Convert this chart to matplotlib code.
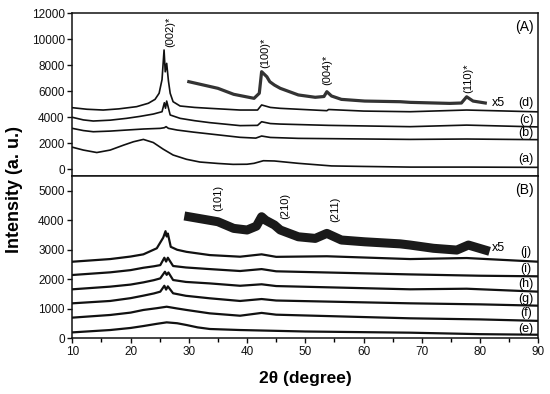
import matplotlib
matplotlib.use('Agg')
import matplotlib.pyplot as plt
from matplotlib.ticker import MultipleLocator

plt.rcParams['font.family'] = ['Liberation Sans', 'DejaVu Sans']

# ---- panel (A) ----
a_x = [10, 11.9, 14.2, 16.5, 18.8, 20.5, 22.2, 23.9, 25.6, 27.3, 29.6, 31.9, 35, 37.6, 40, 41.2, 42.8, 44.7, 48.8, 54.5, 60, 68, 78, 90]
a_y = [1700, 1480, 1290, 1480, 1860, 2120, 2300, 2060, 1550, 1100, 770, 560, 450, 380, 390, 460, 660, 640, 460, 260, 220, 170, 170, 150]

b_x = [10, 11.9, 13.6, 16.5, 19.3, 22.2, 25.1, 25.8, 26.1, 26.5, 28, 30.8, 33.6, 38.8, 41.5, 42.5, 44, 48.8, 68, 77.7, 90]
b_y = [3150, 2980, 2890, 2940, 3020, 3100, 3150, 3200, 3280, 3150, 3020, 2860, 2720, 2460, 2400, 2560, 2450, 2380, 2300, 2330, 2280]

c_x = [10, 11.9, 13.6, 16.5, 19.3, 21.6, 23.9, 25.4, 25.8, 26.0, 26.2, 26.8, 28.5, 31, 33.6, 38.8, 41.8, 42.5, 44, 45.7, 54, 68, 77.7, 90]
c_y = [4000, 3800, 3715, 3780, 3920, 4070, 4250, 4430, 5120, 4700, 5250, 4180, 3920, 3740, 3590, 3360, 3380, 3660, 3520, 3480, 3380, 3280, 3400, 3260]

d_x = [10, 12.5, 15.3, 18, 21.05, 23.05, 24.2, 24.9, 25.4, 25.75, 25.95, 26.2, 26.5, 26.8, 27.3, 28.5, 31, 33.6, 38.8, 41.8, 42.5, 44, 45.7, 53.7, 54, 60, 68, 77.7, 90]
d_y = [4740, 4620, 4560, 4650, 4820, 5080, 5380, 5850, 6900, 9180, 7500, 8150, 6800, 5850, 5200, 4870, 4760, 4690, 4560, 4560, 4950, 4760, 4690, 4510, 4600, 4480, 4430, 4560, 4420]

d5_x = [30, 35, 37.7, 41.2, 42.1, 42.5, 43.4, 43.9, 44.7, 45.7, 48.8, 51.7, 53.2, 53.7, 54.5, 56.2, 60.2, 66.3, 68, 74.8, 76.8, 77.7, 78.8, 80.9]
d5_y = [6740, 6230, 5770, 5460, 5850, 7510, 7120, 6740, 6480, 6230, 5720, 5540, 5600, 5970, 5640, 5380, 5250, 5200, 5150, 5070, 5100, 5580, 5250, 5100]

# ---- panel (B) ----
e_x = [10, 16.5, 20, 22.2, 24.5, 26.2, 28, 29.6, 31.5, 33.6, 38.8, 50, 68, 80, 90]
e_y = [200, 280, 350, 415, 490, 540, 510, 450, 370, 315, 280, 230, 190, 140, 120]

f_x = [10, 16.5, 20, 22.2, 24.5, 26.2, 28, 29.6, 33.6, 38.8, 42.5, 45, 68, 80, 90]
f_y = [700, 790, 870, 960, 1020, 1070, 1010, 960, 845, 765, 860, 800, 677, 640, 590]

g_x = [10, 16.5, 20, 22.2, 24, 25.1, 25.8, 26.1, 26.4, 27.3, 29.5, 33.6, 38.8, 42.5, 45, 68, 80, 90]
g_y = [1185, 1265, 1360, 1445, 1520, 1580, 1780, 1650, 1760, 1525, 1440, 1355, 1265, 1330, 1280, 1185, 1150, 1105]

h_x = [10, 16.5, 20, 22.2, 24, 25.1, 25.9, 26.2, 26.5, 27.3, 29.5, 33.6, 38.8, 42.5, 45, 68, 77.7, 90]
h_y = [1660, 1750, 1820, 1895, 1970, 2030, 2255, 2150, 2230, 1975, 1910, 1860, 1780, 1830, 1770, 1660, 1680, 1580]

i_x = [10, 16.5, 20, 22.2, 24, 25.1, 25.8, 26.1, 26.4, 27.3, 29.5, 33.6, 38.8, 42.5, 45, 68, 80, 90]
i_y = [2145, 2235, 2310, 2390, 2440, 2480, 2730, 2600, 2730, 2450, 2400, 2345, 2280, 2345, 2270, 2165, 2120, 2100]

j_x = [10, 16.5, 20, 22.2, 24.5, 25.6, 26.0, 26.2, 26.4, 26.9, 28, 29.6, 33.6, 38.8, 42.5, 45, 53.7, 68, 77.7, 90]
j_y = [2595, 2685, 2770, 2845, 3050, 3410, 3630, 3450, 3550, 3100, 3000, 2930, 2820, 2765, 2845, 2760, 2780, 2685, 2720, 2595]

j5_x = [30, 35, 37.7, 40, 41.6, 42.5, 43.2, 44.7, 45.7, 48.8, 51.7, 53.7, 56.2, 60.2, 66.3, 68, 72, 76, 78, 80.9]
j5_y = [4120, 3950, 3725, 3670, 3800, 4120, 4000, 3840, 3670, 3440, 3385, 3555, 3330, 3270, 3200, 3160, 3050, 2990, 3160, 2990]

top_peaks = [('(002)*', 26.8, 10560), ('(100)*', 43.1, 8940), ('(004)*', 53.7, 7630), ('(110)*', 78.0, 6980)]
bot_peaks = [('(101)', 35.1, 4770), ('(210)', 46.5, 4480), ('(211)', 55.1, 4380)]
top_names = [('(d)', 5120), ('(c)', 3790), ('(b)', 2770), ('(a)', 770)]
bot_names = [('(j)', 2935), ('(i)', 2345), ('(h)', 1830), ('(g)', 1330), ('(f)', 845), ('(e)', 315)]

fig = plt.figure(figsize=(5.5, 3.94), dpi=100)
ax1 = fig.add_axes([0.1315, 0.5533, 0.8472, 0.4129])
ax2 = fig.add_axes([0.1315, 0.1414, 0.8472, 0.4119])

lc = '#111111'
for xs, ys in [(a_x, a_y), (b_x, b_y), (c_x, c_y), (d_x, d_y)]:
    ax1.plot(xs, ys, color=lc, lw=1.2)
ax1.plot(d5_x, d5_y, color='#333333', lw=2.3)

for xs, ys in [(e_x, e_y), (f_x, f_y), (g_x, g_y), (h_x, h_y), (i_x, i_y), (j_x, j_y)]:
    ax2.plot(xs, ys, color=lc, lw=1.6)
ax2.plot(j5_x, j5_y, color='#1a1a1a', lw=6.5)

for txt, x, y in top_peaks:
    ax1.text(x, y, txt, rotation=90, ha='center', va='center', fontsize=8)
for txt, x, y in bot_peaks:
    ax2.text(x, y, txt, rotation=90, ha='center', va='center', fontsize=8)
for txt, y in top_names:
    ax1.text(87.9, y, txt, ha='center', va='center', fontsize=9)
for txt, y in bot_names:
    ax2.text(87.9, y, txt, ha='center', va='center', fontsize=9)
ax1.text(83.2, 5120, 'x5', ha='center', va='center', fontsize=9)
ax2.text(83.1, 3050, 'x5', ha='center', va='center', fontsize=9)
ax1.text(87.7, 10970, '(A)', ha='center', va='center', fontsize=10)
ax2.text(87.7, 5020, '(B)', ha='center', va='center', fontsize=10)

ax1.set_xlim(10, 90)
ax1.set_ylim(-515, 12000)
ax1.yaxis.set_major_locator(MultipleLocator(2000))
ax1.tick_params(axis='x', bottom=False, labelbottom=False)

ax2.set_xlim(10, 90)
ax2.set_ylim(0, 5500)
ax2.yaxis.set_major_locator(MultipleLocator(1000))
ax2.xaxis.set_major_locator(MultipleLocator(10))
ax2.xaxis.set_minor_locator(MultipleLocator(5))

for ax in (ax1, ax2):
    for s in ax.spines.values():
        s.set_linewidth(1.1)
        s.set_color('#111111')
    ax.tick_params(axis='both', which='major', direction='out', length=3.5, width=1,
                   labelsize=8.5, colors='#111111', pad=2)
    ax.tick_params(axis='x', which='minor', direction='out', length=3, width=1)
    ax.tick_params(axis='y', which='minor', left=False)

fig.text(0.026, 0.518, 'Intensity (a. u.)', rotation=90, ha='center', va='center',
         fontsize=13, fontweight='bold')
fig.text(0.555, 0.04, '2\u03b8 (degree)', ha='center', va='center',
         fontsize=12.5, fontweight='bold')

fig.savefig('out.png', dpi=100)
